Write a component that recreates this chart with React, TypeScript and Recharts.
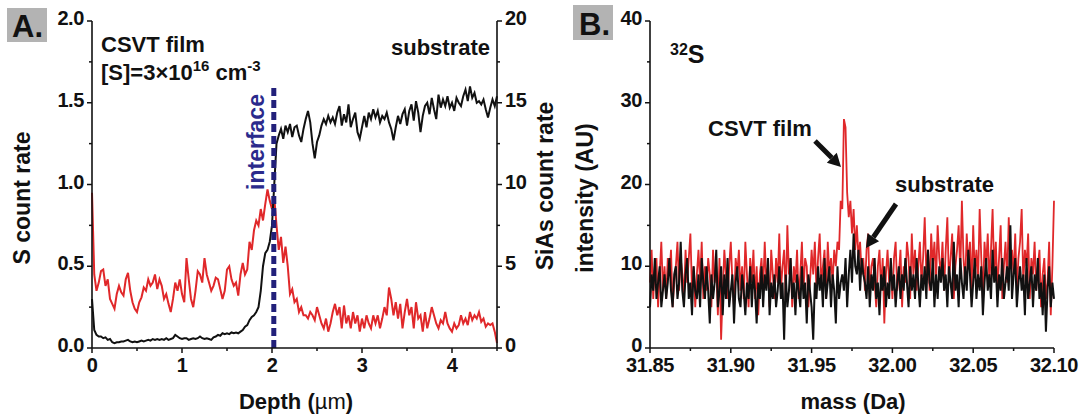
import React from 'react';
import { LineChart, Line, XAxis, YAxis, ReferenceLine } from 'recharts';

// ---------- Panel A data (depth profile) ----------
const DEPTH_STEP = 0.025; // µm between samples, depth 0 .. 4.5
const sCountRate = [
  0.95, 0.45, 0.35, 0.40, 0.47, 0.48, 0.38, 0.42, 0.30, 0.27,
  0.24, 0.33, 0.38, 0.34, 0.32, 0.42, 0.46, 0.35, 0.28, 0.24,
  0.22, 0.28, 0.31, 0.37, 0.35, 0.42, 0.38, 0.40, 0.45, 0.36,
  0.42, 0.38, 0.30, 0.33, 0.27, 0.22, 0.30, 0.40, 0.35, 0.42,
  0.33, 0.28, 0.55, 0.42, 0.30, 0.25, 0.35, 0.47, 0.45, 0.40,
  0.55, 0.45, 0.40, 0.35, 0.38, 0.43, 0.42, 0.36, 0.30, 0.35,
  0.48, 0.50, 0.42, 0.38, 0.40, 0.32, 0.45, 0.52, 0.45, 0.48,
  0.65, 0.60, 0.72, 0.78, 0.75, 0.85, 0.78, 0.88, 0.97, 0.90,
  0.85, 0.92, 0.75, 0.60, 0.68, 0.52, 0.62, 0.50, 0.33, 0.36,
  0.28, 0.30, 0.22, 0.25, 0.20, 0.20, 0.18, 0.22, 0.20, 0.17,
  0.25, 0.20, 0.15, 0.12, 0.18, 0.10, 0.15, 0.22, 0.27, 0.20,
  0.25, 0.12, 0.26, 0.15, 0.20, 0.12, 0.22, 0.15, 0.20, 0.10,
  0.18, 0.12, 0.20, 0.15, 0.12, 0.20, 0.15, 0.20, 0.12, 0.18,
  0.25, 0.20, 0.37, 0.30, 0.20, 0.28, 0.18, 0.27, 0.12, 0.22,
  0.30, 0.20, 0.25, 0.12, 0.28, 0.18, 0.20, 0.10, 0.22, 0.12,
  0.18, 0.25, 0.20, 0.15, 0.12, 0.17, 0.15, 0.22, 0.15, 0.12,
  0.10, 0.15, 0.12, 0.14, 0.20, 0.15, 0.18, 0.14, 0.22, 0.17,
  0.20, 0.18, 0.22, 0.16, 0.18, 0.13, 0.15, 0.14, 0.15, 0.10,
  0.03,
];
const siasCountRate = [
  3.0, 1.1, 0.8, 0.7, 0.7, 0.6, 0.65, 0.5, 0.55, 0.35,
  0.3, 0.35, 0.35, 0.4, 0.4, 0.45, 0.5, 0.4, 0.35, 0.4,
  0.35, 0.4, 0.45, 0.4, 0.45, 0.5, 0.45, 0.55, 0.5, 0.55,
  0.5, 0.55, 0.5, 0.6, 0.5, 0.55, 0.6, 0.8, 0.7, 0.6,
  0.55, 0.6, 0.6, 0.5, 0.55, 0.6, 0.55, 0.6, 0.7, 0.6,
  0.55, 0.6, 0.55, 0.5, 0.65, 0.7, 0.8, 0.75, 0.9, 0.85,
  0.9, 0.85, 0.95, 0.9, 0.95, 0.9, 1.0, 1.1, 1.3, 1.4,
  1.7, 1.9, 2.0, 2.2, 2.5, 3.5, 5.0, 5.8, 6.0, 6.5,
  7.5, 10.0, 12.5, 13.0, 13.4, 12.8, 13.6, 13.2, 13.7, 12.9,
  13.5, 13.6, 13.0, 12.6, 13.4, 14.0, 14.5, 13.8, 12.5, 11.6,
  12.6, 13.0, 13.6, 14.0, 13.7, 14.2, 13.8, 14.1, 13.7, 14.4,
  14.8, 13.6, 14.3, 13.8, 14.9, 13.5, 14.0, 14.4, 13.2, 12.8,
  13.5, 14.2, 13.5, 14.4, 14.0, 14.6, 14.1, 14.5, 13.8, 14.2,
  14.0, 14.4, 13.8, 13.4, 12.7, 13.5, 14.2, 13.7, 14.3, 14.6,
  13.6, 14.5, 14.9, 13.9, 15.1, 14.4, 13.2, 14.2, 14.8, 15.0,
  14.3, 15.3, 14.6, 14.0, 15.5, 14.7, 15.2, 14.8, 15.4, 14.7,
  15.0, 14.5, 15.3, 15.0, 14.8, 15.4, 15.8, 15.1, 16.0, 15.3,
  15.6, 15.0, 15.1, 14.9, 15.2, 14.6, 14.1, 14.7, 15.2, 14.8,
  15.4,
];
const INTERFACE_DEPTH = 2.02;
const INTERFACE_TOP = 1.59;
const depthTicks = [0, 0.5, 1, 1.5, 2, 2.5, 3, 3.5, 4, 4.5];
const sTicks = [0, 0.25, 0.5, 0.75, 1, 1.25, 1.5, 1.75, 2];
const siasTicks = [0, 2.5, 5, 7.5, 10, 12.5, 15, 17.5, 20];

// ---------- Panel B data (mass spectrum) ----------
const MASS_START = 31.85;
const MASS_STEP = 0.001;
const filmIntensity = [
  8, 12, 6, 10, 11, 5, 9, 13, 7, 10,
  6, 11, 9, 12, 5, 8, 10, 13, 7, 11,
  9, 6, 12, 8, 11, 14, 7, 10, 5, 9,
  12, 8, 13, 6, 10, 7, 11, 9, 5, 12,
  8, 10, 4, 11, 1, 7, 12, 9, 6, 10,
  13, 8, 5, 11, 9, 12, 7, 10, 6, 13,
  9, 5, 11, 8, 12, 6, 10, 4, 9, 11,
  7, 13, 8, 10, 5, 12, 9, 6, 11, 8,
  14, 7, 10, 12, 6, 15, 9, 11, 5, 10,
  8, 12, 6, 9, 13, 7, 11, 10, 5, 8,
  12, 9, 13, 7, 11, 14, 8, 10, 12, 6,
  13, 9, 11, 8, 12, 10, 13, 12, 18, 17,
  28, 27, 19, 16, 18, 14, 17, 12, 15, 11,
  13, 9, 11, 7, 12, 14, 6, 10, 11, 8,
  5, 10, 12, 7, 11, 3, 9, 12, 8, 10,
  6, 11, 13, 7, 9, 12, 5, 10, 8, 13,
  11, 6, 14, 9, 12, 7, 10, 13, 8, 11,
  16, 9, 12, 7, 14, 10, 13, 8, 15, 11,
  9, 13, 7, 12, 16, 8, 11, 14, 6, 10,
  12, 15, 9, 18, 11, 8, 14, 10, 13, 7,
  15, 9, 12, 8, 17, 11, 6, 13, 10, 14,
  8, 12, 17, 9, 13, 7, 11, 15, 6, 10,
  13, 8, 16, 10, 12, 9, 14, 7, 11, 13,
  17, 8, 12, 10, 14, 6, 11, 9, 13, 7,
  10, 12, 5, 9, 11, 6, 8, 13, 4, 10,
  18,
];
const substrateIntensity = [
  5, 9, 7, 11, 6, 8, 10, 5, 7, 9,
  6, 8, 11, 7, 5, 9, 10, 6, 8, 13,
  7, 5, 9, 11, 6, 8, 4, 10, 7, 6,
  9, 5, 11, 8, 6, 10, 7, 3, 9, 6,
  8, 12, 5, 7, 10, 4, 9, 6, 11, 5,
  7, 9, 3, 8, 10, 6, 5, 9, 7, 4,
  8, 6, 10, 5, 9, 7, 3, 8, 6, 10,
  5, 9, 7, 11, 4, 8, 6, 9, 5, 7,
  10, 6, 8, 1, 9, 5, 7, 11, 6, 8,
  4, 9, 7, 5, 10, 6, 8, 3, 9, 7,
  5, 1, 8, 6, 10, 7, 9, 5, 11, 6,
  8, 10, 5, 9, 7, 3, 10, 6, 8, 9,
  7, 11, 5, 9, 12, 8, 14, 10, 9, 12,
  7, 11, 9, 8, 6, 10, 5, 9, 7, 11,
  6, 8, 4, 9, 7, 10, 5, 8, 6, 11,
  7, 9, 5, 8, 10, 6, 9, 7, 11, 8,
  5, 10, 7, 9, 6, 11, 8, 5, 9, 7,
  10, 6, 12, 8, 7, 11, 5, 9, 6, 10,
  8, 11, 7, 9, 5, 10, 8, 6, 13, 7,
  9, 5, 11, 8, 6, 10, 7, 12, 9, 5,
  8, 11, 6, 9, 7, 10, 4, 8, 11, 7,
  9, 6, 12, 8, 10, 5, 9, 7, 11, 6,
  8, 10, 7, 15, 6, 9, 11, 5, 8, 10,
  7, 9, 4, 11, 6, 8, 10, 5, 9, 7,
  11, 6, 8, 4, 9, 2, 7, 10, 5, 8,
  6,
];
const massTicks = [31.85, 31.875, 31.9, 31.925, 31.95, 31.975, 32.0, 32.025, 32.05, 32.075, 32.1];
const intensityTicks = [0, 5, 10, 15, 20, 25, 30, 35, 40];

const depthTable = sCountRate.map((s, i) => ({
  depth: +(i * DEPTH_STEP).toFixed(3),
  s,
  sias: siasCountRate[i],
}));
const massTable = filmIntensity.map((f, i) => ({
  mass: +(MASS_START + i * MASS_STEP).toFixed(3),
  film: f,
  substrate: substrateIntensity[i],
}));

const FONT = "'Liberation Sans', Arial, Helvetica, sans-serif";
const RED = '#e0282a';
const BLACK = '#111111';
const NAVY = '#22207a';
const AXIS = '#111111';

type Side = 'left' | 'right' | 'bottom' | 'top';

function makeTick(side: Side, fmt: ((v: number) => string) | null, inward = false) {
  return (props: any) => {
    const { x, y, index, payload } = props;
    const major = index % 2 === 0;
    const len = major ? 5 : 3;
    let dx = 0;
    let dy = 0;
    if (side === 'bottom') dy = inward ? -1 : 1;
    if (side === 'top') dy = inward ? 1 : -1;
    if (side === 'left') dx = inward ? 1 : -1;
    if (side === 'right') dx = inward ? -1 : 1;
    const label = fmt && major ? fmt(payload.value) : null;
    const common = {
      fontFamily: FONT,
      fontWeight: 'bold' as const,
      fontSize: 20,
      fill: BLACK,
      letterSpacing: -0.4,
    };
    let text = null;
    if (label !== null) {
      if (side === 'bottom') {
        text = (
          <text x={x} y={y + 24} textAnchor="middle" {...common}>
            {label}
          </text>
        );
      } else if (side === 'left') {
        text = (
          <text x={x - 8} y={y - 3} dy="0.36em" textAnchor="end" {...common}>
            {label}
          </text>
        );
      } else if (side === 'right') {
        text = (
          <text x={x + 8} y={y - 3} dy="0.36em" textAnchor="start" {...common}>
            {label}
          </text>
        );
      }
    }
    return (
      <g>
        <line x1={x} y1={y} x2={x + dx * len} y2={y + dy * len} stroke={AXIS} strokeWidth={1.5} />
        {text}
      </g>
    );
  };
}

const axisLineStyle = { stroke: AXIS, strokeWidth: 1.6 };

function Arrow({ x1, y1, x2, y2 }: { x1: number; y1: number; x2: number; y2: number }) {
  const ddx = x2 - x1;
  const ddy = y2 - y1;
  const L = Math.hypot(ddx, ddy);
  const ux = ddx / L;
  const uy = ddy / L;
  const headL = 13;
  const headW = 7;
  const bx = x2 - ux * headL;
  const by = y2 - uy * headL;
  const px = -uy;
  const py = ux;
  return (
    <g>
      <line x1={x1} y1={y1} x2={bx} y2={by} stroke={BLACK} strokeWidth={5} />
      <polygon
        points={`${x2},${y2} ${bx + px * headW},${by + py * headW} ${bx - px * headW},${by - py * headW}`}
        fill={BLACK}
      />
    </g>
  );
}

function PanelA() {
  return (
    <div style={{ position: 'absolute', left: 0, top: 0 }}>
      <LineChart width={560} height={416} data={depthTable} margin={{ top: 21, right: 0, bottom: 0, left: 0 }}>
        <XAxis
          dataKey="depth"
          type="number"
          domain={[0, 4.5]}
          ticks={depthTicks}
          interval={0}
          height={68}
          tickSize={0}
          tickMargin={0}
          tickLine={false}
          axisLine={axisLineStyle}
          tick={makeTick('bottom', (v) => String(Math.round(v)))}
        />
        <XAxis
          xAxisId="top"
          orientation="top"
          dataKey="depth"
          type="number"
          domain={[0, 4.5]}
          ticks={depthTicks}
          interval={0}
          height={0}
          tickSize={0}
          tickMargin={0}
          tickLine={false}
          axisLine={axisLineStyle}
          tick={makeTick('top', null, true)}
        />
        <YAxis
          yAxisId="left"
          type="number"
          domain={[0, 2]}
          ticks={sTicks}
          interval={0}
          width={92}
          tickSize={0}
          tickMargin={0}
          tickLine={false}
          axisLine={axisLineStyle}
          tick={makeTick('left', (v) => v.toFixed(1))}
        />
        <YAxis
          yAxisId="right"
          orientation="right"
          type="number"
          domain={[0, 20]}
          ticks={siasTicks}
          interval={0}
          width={63}
          tickSize={0}
          tickMargin={0}
          tickLine={false}
          axisLine={axisLineStyle}
          tick={makeTick('right', (v) => String(v))}
        />
        <Line
          yAxisId="left"
          dataKey="s"
          type="linear"
          stroke={RED}
          strokeWidth={2}
          dot={false}
          isAnimationActive={false}
        />
        <Line
          yAxisId="right"
          dataKey="sias"
          type="linear"
          stroke={BLACK}
          strokeWidth={2}
          dot={false}
          isAnimationActive={false}
        />
        <ReferenceLine
          yAxisId="left"
          segment={[
            { x: INTERFACE_DEPTH, y: 0 },
            { x: INTERFACE_DEPTH, y: INTERFACE_TOP },
          ]}
          stroke={NAVY}
          strokeWidth={5}
          strokeDasharray="8 4"
          ifOverflow="visible"
        />
      </LineChart>
    </div>
  );
}

function PanelB() {
  return (
    <div style={{ position: 'absolute', left: 560, top: 0 }}>
      <LineChart width={524} height={416} data={massTable} margin={{ top: 21, right: 30, bottom: 0, left: 0 }}>
        <XAxis
          dataKey="mass"
          type="number"
          domain={[31.85, 32.1]}
          ticks={massTicks}
          interval={0}
          height={68}
          tickSize={0}
          tickMargin={0}
          tickLine={false}
          axisLine={axisLineStyle}
          tick={makeTick('bottom', (v) => v.toFixed(2))}
        />
        <XAxis
          xAxisId="top"
          orientation="top"
          dataKey="mass"
          type="number"
          domain={[31.85, 32.1]}
          ticks={massTicks}
          interval={0}
          height={0}
          tickSize={0}
          tickMargin={0}
          tickLine={false}
          axisLine={axisLineStyle}
          tick={makeTick('top', null, true)}
        />
        <YAxis
          yAxisId="l"
          type="number"
          domain={[0, 40]}
          ticks={intensityTicks}
          interval={0}
          width={90}
          tickSize={0}
          tickMargin={0}
          tickLine={false}
          axisLine={axisLineStyle}
          tick={makeTick('left', (v) => String(v))}
        />
        <YAxis
          yAxisId="r"
          orientation="right"
          type="number"
          domain={[0, 40]}
          ticks={intensityTicks}
          interval={0}
          width={0}
          tickSize={0}
          tickMargin={0}
          tickLine={false}
          axisLine={axisLineStyle}
          tick={makeTick('right', null, true)}
        />
        <Line
          yAxisId="l"
          dataKey="film"
          type="linear"
          stroke={RED}
          strokeWidth={1.8}
          dot={false}
          isAnimationActive={false}
        />
        <Line
          yAxisId="l"
          dataKey="substrate"
          type="linear"
          stroke={BLACK}
          strokeWidth={2}
          dot={false}
          isAnimationActive={false}
        />
      </LineChart>
    </div>
  );
}

function Annotations() {
  const bold = { fontFamily: FONT, fontWeight: 'bold' as const, fill: BLACK };
  return (
    <svg
      width={1084}
      height={416}
      style={{ position: 'absolute', left: 0, top: 0, pointerEvents: 'none' }}
    >
      {/* panel labels */}
      <rect x={7} y={8} width={40} height={34} fill="#b3b3b3" />
      <text x={12} y={37} fontSize={31} {...bold}>A.</text>
      <rect x={573} y={5} width={40} height={35} fill="#b3b3b3" />
      <text x={579} y={35} fontSize={31} {...bold}>B.</text>

      {/* panel A texts */}
      <text x={101} y={52} fontSize={22} {...bold}>CSVT film</text>
      <text x={101} y={80} fontSize={22} {...bold}>
        [S]=3×10
        <tspan dy={-9} fontSize={15}>16</tspan>
        <tspan dy={9} fontSize={22}> cm</tspan>
        <tspan dy={-9} fontSize={15}>-3</tspan>
      </text>
      <text x={490} y={55} fontSize={22} textAnchor="end" {...bold}>substrate</text>
      <text
        transform="translate(256,142) rotate(-90)"
        textAnchor="middle"
        dy="0.35em"
        fontSize={23}
        fontFamily={FONT}
        fontWeight="bold"
        fill="#2b2a8c"
      >
        interface
      </text>
      <text transform="translate(22,198) rotate(-90)" textAnchor="middle" dy="0.35em" fontSize={23} {...bold}>
        S count rate
      </text>
      <text transform="translate(545,186) rotate(-90)" textAnchor="middle" dy="0.35em" fontSize={23} {...bold}>
        SiAs count rate
      </text>
      <text x={296} y={409} textAnchor="middle" fontSize={22} {...bold}>
        Depth (<tspan fontWeight="normal">µm</tspan>)
      </text>

      {/* panel B texts */}
      <text x={670} y={55} fontSize={16} {...bold}>
        32<tspan dy={8} fontSize={25}>S</tspan>
      </text>
      <text transform="translate(585,198) rotate(-90)" textAnchor="middle" dy="0.35em" fontSize={23} {...bold}>
        intensity (AU)
      </text>
      <text x={853} y={409} textAnchor="middle" fontSize={22} {...bold}>mass (Da)</text>
      <text x={708} y={136} fontSize={22} {...bold}>CSVT film</text>
      <Arrow x1={815} y1={141} x2={841} y2={167} />
      <text x={895} y={192} fontSize={22} {...bold}>substrate</text>
      <Arrow x1={896} y1={204} x2={866} y2={248} />
    </svg>
  );
}

export default function App() {
  return (
    <div style={{ position: 'absolute', left: 0, top: 0, width: 1084, height: 416, background: '#ffffff', overflow: 'hidden' }}>
      <PanelA />
      <PanelB />
      <Annotations />
    </div>
  );
}
